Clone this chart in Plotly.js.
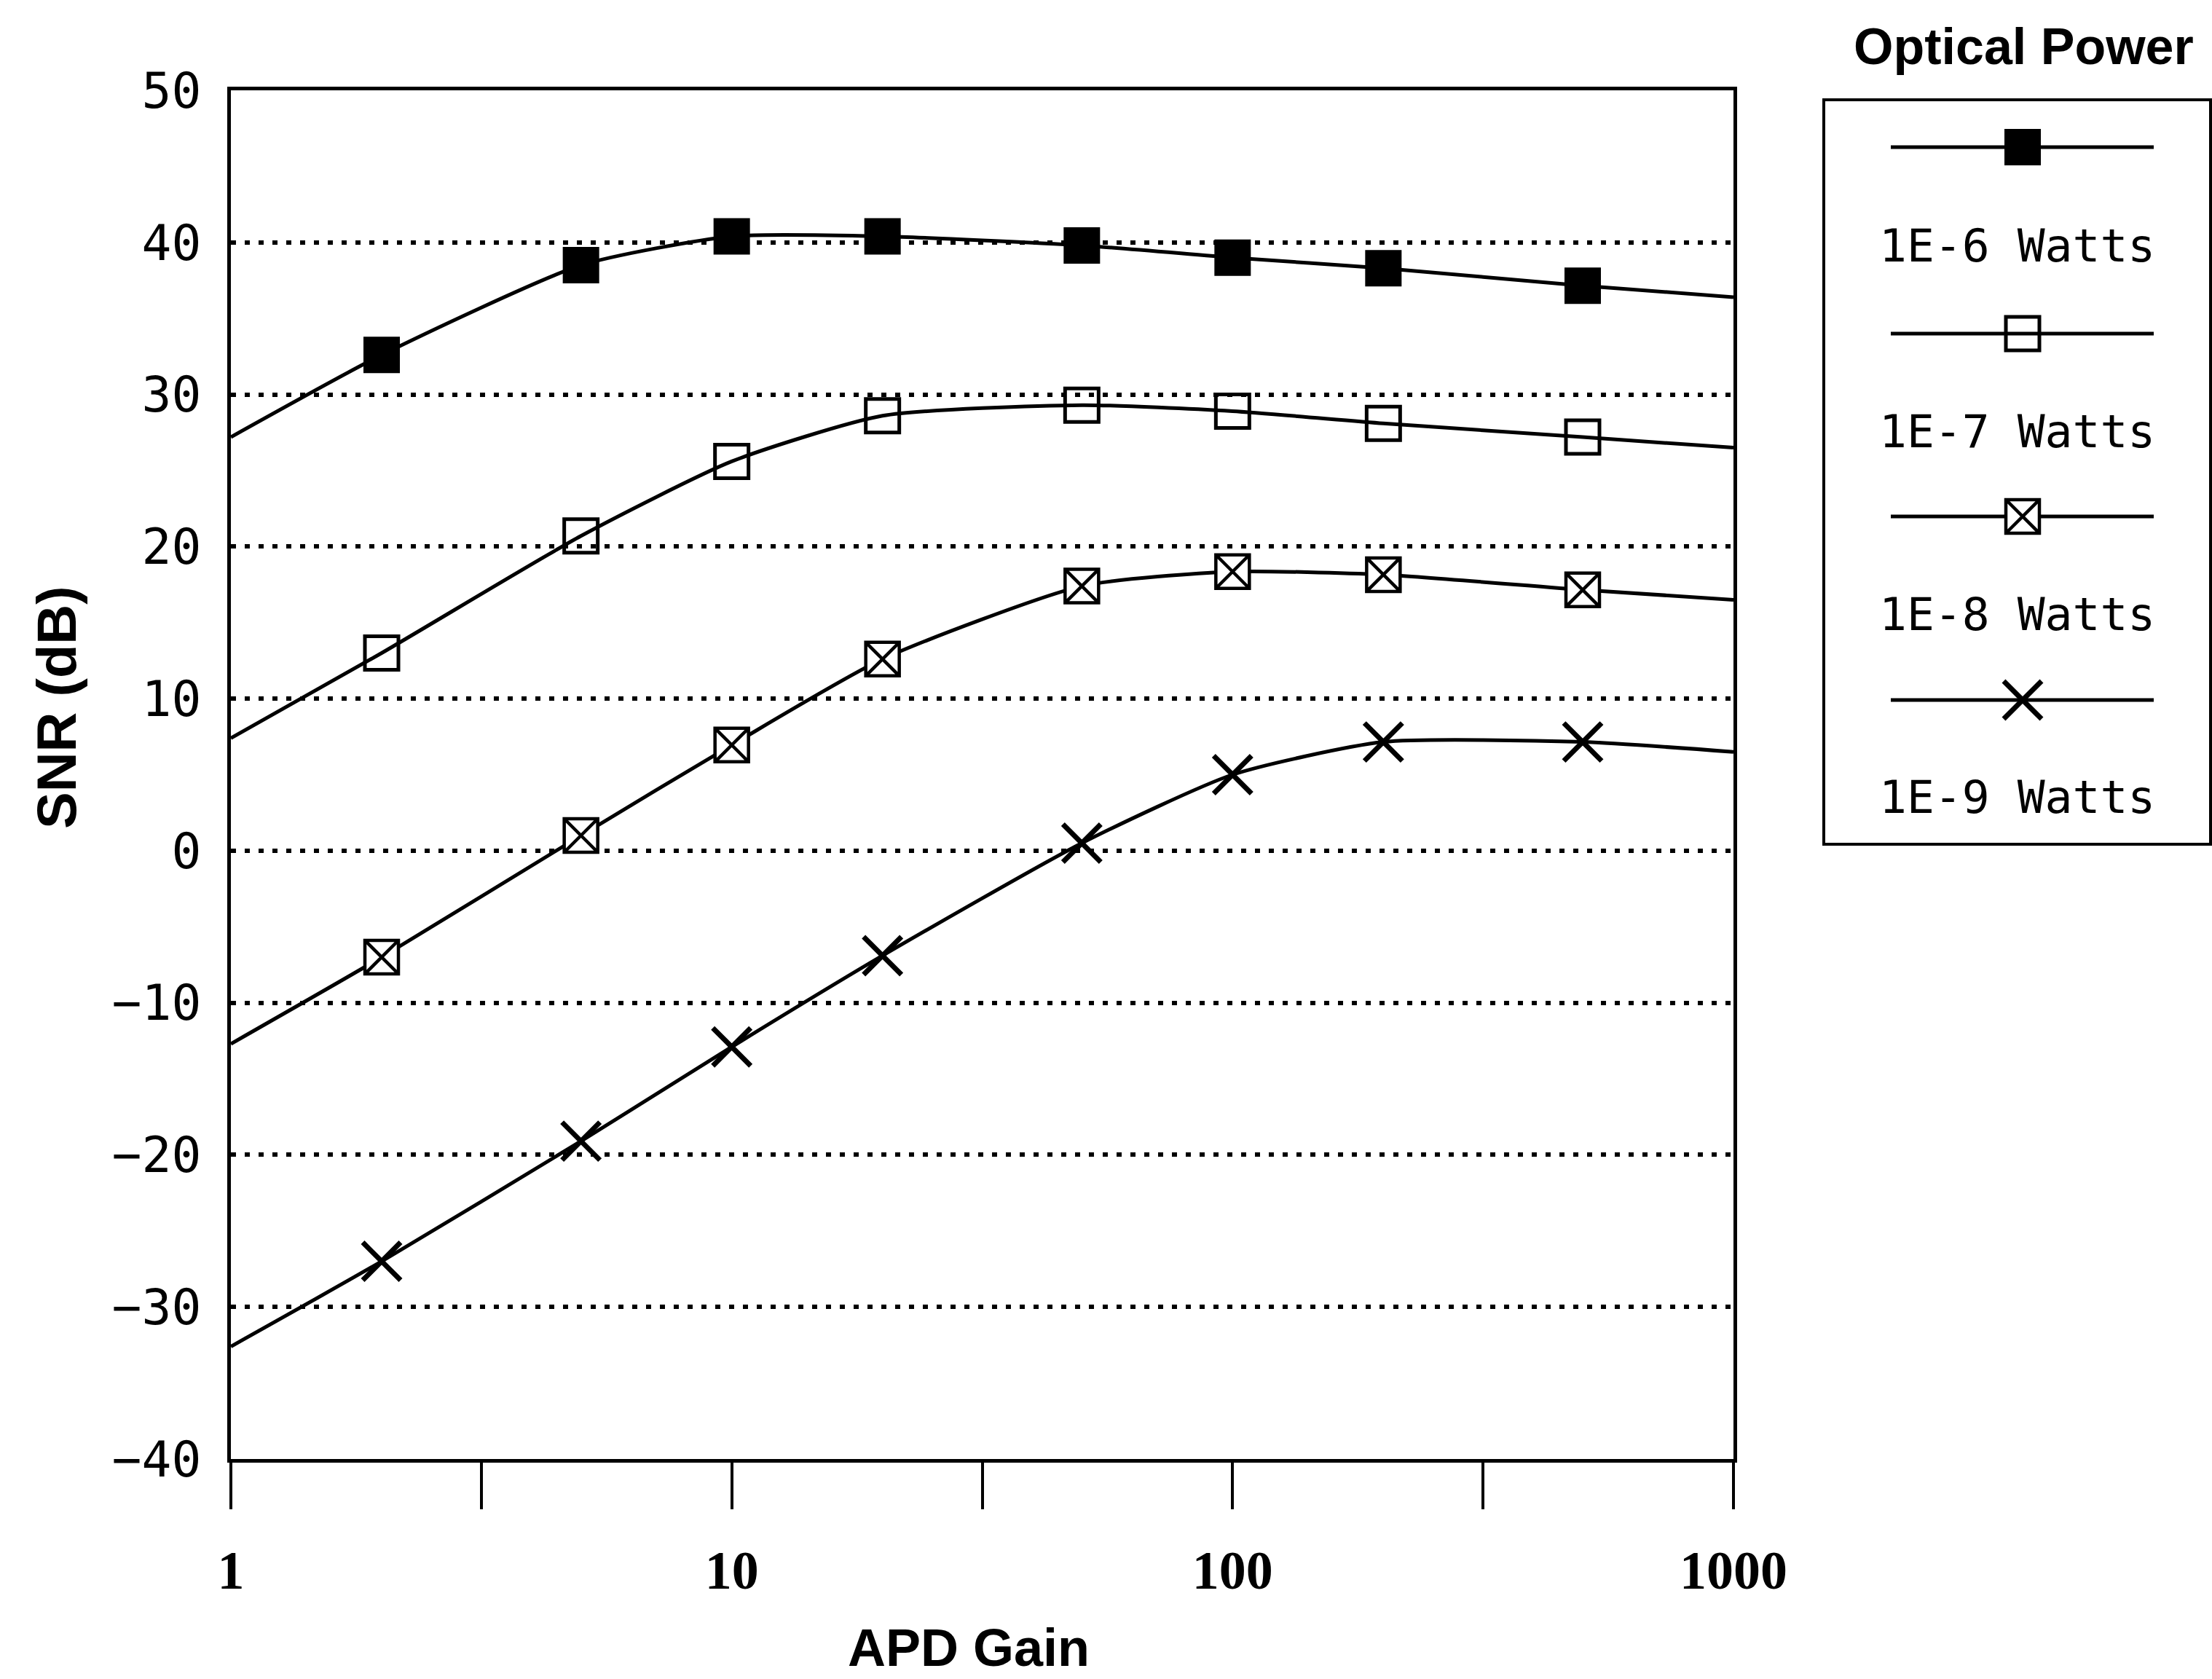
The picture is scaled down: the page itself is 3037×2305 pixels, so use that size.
<!DOCTYPE html>
<html>
<head>
<meta charset="utf-8">
<script src="https://cdn.plot.ly/plotly-3.0.1.min.js"></script>
<style>
  html, body { margin: 0; padding: 0; background: #ffffff; }
  #chart { width: 3037px; height: 2305px; }
</style>
</head>
<body>
<div id="chart"></div>
<script>
// APD gain values; curves run from 1 to 1000, markers sit on the interior points
const apdGain = [1, 2, 5, 10, 20, 50, 100, 200, 500, 1000];

// Signal-to-noise ratio (dB) for each received optical power
const snr1e6 = [27.2, 32.6, 38.5, 40.4, 40.4, 39.8, 39.0, 38.3, 37.15, 36.4];
const snr1e7 = [7.4, 13.0, 20.7, 25.6, 28.6, 29.3, 28.9, 28.1, 27.2, 26.5];
const snr1e8 = [-12.7, -7.0, 1.0, 6.95, 12.6, 17.4, 18.35, 18.15, 17.15, 16.5];
const snr1e9 = [-32.6, -27.0, -19.1, -12.9, -6.9, 0.5, 5.0, 7.15, 7.15, 6.5];

const seriesNames = ['1E-6 Watts', '1E-7 Watts', '1E-8 Watts', '1E-9 Watts'];
const legendTitle = 'Optical Power';

// Axis ticks
const yTickVals = [-40, -30, -20, -10, 0, 10, 20, 30, 40, 50];
const xTickVals = [1, 3.1623, 10, 31.623, 100, 316.23, 1000];
const xTickText = ['1', '', '10', '', '100', '', '1000'];

const INK = '#000000';
const W = 3037, H = 2305;

// Marker look for each power level
const markerStyles = [
  { symbol: 'square', color: INK, size: 48, line: { color: INK, width: 2 } },
  { symbol: 'square-open', color: INK, size: 46, line: { color: INK, width: 5 } },
  { symbol: 'square-x', color: '#ffffff', size: 46, line: { color: INK, width: 4.5 } },
  { symbol: 'x-thin-open', color: INK, size: 52, line: { color: INK, width: 7 } }
];

const allSeries = [snr1e6, snr1e7, snr1e8, snr1e9];
const traces = [];

// Curves
allSeries.forEach(function (ys, i) {
  traces.push({
    type: 'scatter', mode: 'lines', name: seriesNames[i],
    x: apdGain, y: ys, xaxis: 'x', yaxis: 'y',
    line: { color: INK, width: 5, shape: 'spline', smoothing: 0.6 },
    showlegend: false, hoverinfo: 'skip'
  });
});

// Markers (interior gain points only)
allSeries.forEach(function (ys, i) {
  traces.push({
    type: 'scatter', mode: 'markers', name: seriesNames[i],
    x: apdGain.slice(1, -1), y: ys.slice(1, -1), xaxis: 'x', yaxis: 'y',
    marker: markerStyles[i], cliponaxis: false,
    showlegend: false, hoverinfo: 'skip'
  });
});

// Legend box drawn on its own small axes (units are pixels inside the box)
const boxLeft = 2506, boxRight = 3033, boxTop = 139, boxBottom = 1157;
const boxW = boxRight - boxLeft, boxH = boxBottom - boxTop;
const sampleX0 = 90, sampleX1 = 451, sampleXm = 271;
const sampleRowY = [63, 319, 570, 822];
const labelRowY = [199, 453, 704, 955];
const labelX = 263;

seriesNames.forEach(function (name, i) {
  traces.push({
    type: 'scatter', mode: 'lines', x: [sampleX0, sampleX1], y: [sampleRowY[i], sampleRowY[i]],
    xaxis: 'x2', yaxis: 'y2', line: { color: INK, width: 5 },
    showlegend: false, hoverinfo: 'skip'
  });
  traces.push({
    type: 'scatter', mode: 'markers', x: [sampleXm], y: [sampleRowY[i]],
    xaxis: 'x2', yaxis: 'y2', marker: markerStyles[i], cliponaxis: false,
    showlegend: false, hoverinfo: 'skip'
  });
});

const annotations = [
  {
    text: 'SNR (dB)', xref: 'paper', yref: 'paper', x: 77 / W, y: 1 - 971 / H,
    xanchor: 'center', yanchor: 'middle', textangle: -90, showarrow: false,
    font: { family: 'Liberation Sans', size: 76, color: INK, weight: 'bold' }
  },
  {
    text: 'APD Gain', xref: 'paper', yref: 'paper', x: 1330 / W, y: 1 - 2262 / H,
    xanchor: 'center', yanchor: 'middle', showarrow: false,
    font: { family: 'Liberation Sans', size: 72, color: INK, weight: 'bold' }
  },
  {
    text: legendTitle, xref: 'paper', yref: 'paper', x: 2778 / W, y: 1 - 64 / H,
    xanchor: 'center', yanchor: 'middle', showarrow: false,
    font: { family: 'Liberation Sans', size: 70, color: INK, weight: 'bold' }
  }
];

seriesNames.forEach(function (name, i) {
  annotations.push({
    text: name, xref: 'x2', yref: 'y2', x: labelX, y: labelRowY[i],
    xanchor: 'center', yanchor: 'middle', showarrow: false,
    font: { family: 'DejaVu Sans Mono', size: 63, color: INK }
  });
});

const plotLeft = 317, plotRight = 2380, plotTop = 124, plotBottom = 2003;

const layout = {
  width: W, height: H,
  margin: { l: 0, r: 0, t: 0, b: 0, pad: 0 },
  paper_bgcolor: '#ffffff', plot_bgcolor: '#ffffff',
  showlegend: false,
  xaxis: {
    type: 'log', range: [0, 3],
    domain: [plotLeft / W, plotRight / W],
    anchor: 'y',
    showline: true, linecolor: INK, linewidth: 5, mirror: true,
    showgrid: false, zeroline: false,
    tickmode: 'array', tickvals: xTickVals, ticktext: xTickText,
    ticks: 'outside', ticklen: 64, tickwidth: 4, tickcolor: INK,
    ticklabelstandoff: 20,
    tickfont: { family: 'Liberation Serif', size: 74, color: INK, weight: 'bold' },
    automargin: false, fixedrange: true
  },
  yaxis: {
    range: [-40, 50],
    domain: [1 - plotBottom / H, 1 - plotTop / H],
    anchor: 'x',
    showline: true, linecolor: INK, linewidth: 5, mirror: true,
    showgrid: true, gridcolor: INK, gridwidth: 6, griddash: '7px,12px',
    zeroline: false,
    tickmode: 'array', tickvals: yTickVals,
    ticks: '', ticklabelstandoff: 22,
    tickfont: { family: 'DejaVu Sans Mono', size: 68, color: INK },
    automargin: false, fixedrange: true
  },
  xaxis2: {
    range: [0, boxW], domain: [boxLeft / W, boxRight / W], anchor: 'y2',
    showline: true, linecolor: INK, linewidth: 4, mirror: true,
    showgrid: false, zeroline: false, showticklabels: false, ticks: '',
    automargin: false, fixedrange: true
  },
  yaxis2: {
    range: [boxH, 0], domain: [1 - boxBottom / H, 1 - boxTop / H], anchor: 'x2',
    showline: true, linecolor: INK, linewidth: 4, mirror: true,
    showgrid: false, zeroline: false, showticklabels: false, ticks: '',
    automargin: false, fixedrange: true
  },
  annotations: annotations
};

Plotly.newPlot('chart', traces, layout, { staticPlot: true, displayModeBar: false });
</script>
</body>
</html>
